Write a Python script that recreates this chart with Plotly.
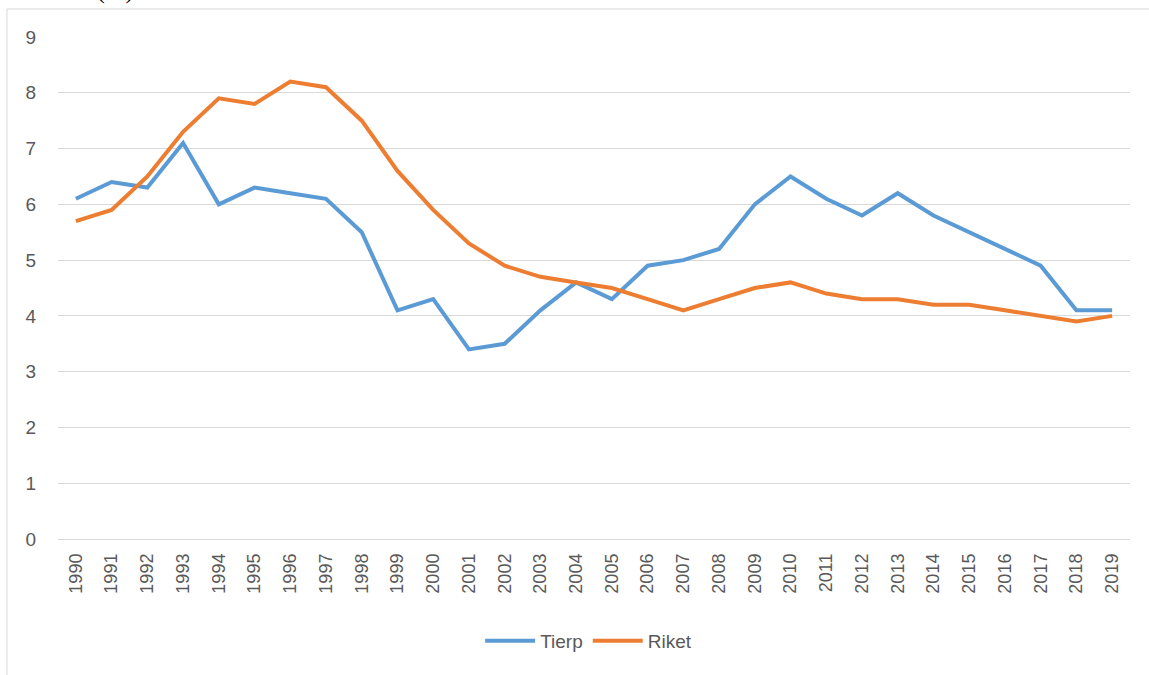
import plotly.graph_objects as go

years = [str(y) for y in range(1990, 2020)]
tierp = [6.1, 6.4, 6.3, 7.1, 6.0, 6.3, 6.2, 6.1, 5.5, 4.1, 4.3, 3.4, 3.5, 4.1, 4.6,
         4.3, 4.9, 5.0, 5.2, 6.0, 6.5, 6.1, 5.8, 6.2, 5.8, 5.5, 5.2, 4.9, 4.1, 4.1]
riket = [5.7, 5.9, 6.5, 7.3, 7.9, 7.8, 8.2, 8.1, 7.5, 6.6, 5.9, 5.3, 4.9, 4.7, 4.6,
         4.5, 4.3, 4.1, 4.3, 4.5, 4.6, 4.4, 4.3, 4.3, 4.2, 4.2, 4.1, 4.0, 3.9, 4.0]
y_ticks = list(range(0, 10))

fig = go.Figure()
fig.add_trace(go.Scatter(x=years, y=tierp, mode="lines", name="Tierp",
                         line=dict(color="#5B9BD5", width=4)))
fig.add_trace(go.Scatter(x=years, y=riket, mode="lines", name="Riket",
                         line=dict(color="#ED7D31", width=4)))

fig.update_layout(
    width=1149, height=675,
    margin=dict(l=58, r=19, t=37, b=136),
    paper_bgcolor="white", plot_bgcolor="white",
    font=dict(family="Liberation Sans, Arial", color="#595959", size=18),
    showlegend=True,
    legend=dict(orientation="h", x=0.495, xanchor="center", y=-0.165, yanchor="top",
                font=dict(size=19, color="#595959"), itemwidth=50),
    xaxis=dict(type="category", range=[-0.5, len(years) - 0.5], tickangle=-90,
               showgrid=False, showline=False, ticks="", tickfont=dict(size=18),
               ticklabelstandoff=10, fixedrange=True),
    yaxis=dict(range=[0, 9], tickvals=y_ticks, showgrid=True, gridcolor="#D9D9D9",
               gridwidth=1, zeroline=True, zerolinecolor="#D9D9D9", zerolinewidth=1,
               showline=False, ticks="", tickfont=dict(size=19), ticklabelstandoff=21,
               fixedrange=True),
    shapes=[dict(type="rect", xref="paper", yref="paper", x0=-0.0476, x1=1.05,
                 y0=-0.5, y1=1.0558, line=dict(color="#D9D9D9", width=1),
                 fillcolor="rgba(0,0,0,0)", layer="below")],
    annotations=[dict(text="<b><i>Riket</i></b> (%)", xref="paper", yref="paper",
                      x=(136 - 58) / 1072, xanchor="right", y=1.061, yanchor="bottom",
                      showarrow=False,
                      font=dict(family="Liberation Serif, Times New Roman", size=25,
                                color="black"))],
)

fig.write_html("out.html", config={"displayModeBar": False},
               post_script="document.body.style.margin='0';")
